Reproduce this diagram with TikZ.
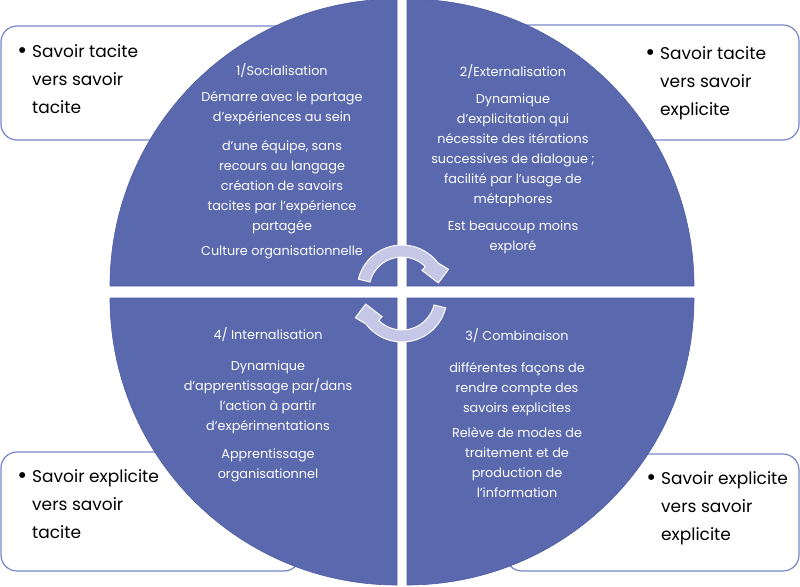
\documentclass[tikz,border=0pt]{standalone}
\usepackage{fontspec}
\setmainfont{Poppins}
\usepackage{xcolor}
\definecolor{quadblue}{RGB}{90,104,174}
\definecolor{quadedge}{RGB}{78,92,166}
\definecolor{boxline}{RGB}{118,134,200}
\definecolor{cyclefill}{RGB}{196,199,229}

\begin{document}
\begin{tikzpicture}[x=1pt,y=1pt]
    \tikzstyle{KnowBox}=[draw=boxline, line width=1.2pt, fill=white, rounded corners=16pt]
    \tikzstyle{BoxText}=[anchor=base west, align=left, inner sep=0pt, text=black, font=\fontsize{17}{28}\selectfont]
    \tikzstyle{Quadrant}=[fill=quadblue, draw=quadedge, line width=0.6pt]
    \tikzstyle{QuadText}=[anchor=base, align=center, inner sep=0pt, text=white, font=\fontsize{12.8}{20}\selectfont]
    \tikzstyle{CycleArrow}=[fill=cyclefill, draw=white, line width=1pt]
    \newcommand{\boxbullet}{\llap{\raisebox{-1.5pt}{\fontsize{24}{28}\selectfont •}\hspace{5pt}}}
    \useasboundingbox (0,0) rectangle (800,-586);
    \draw[KnowBox] (1,-26) rectangle (301,-140);
    \draw[KnowBox] (499,-25) rectangle (799,-140);
    \draw[KnowBox] (1,-452) rectangle (300,-571);
    \draw[KnowBox] (506,-454) rectangle (799,-571);
    \filldraw[Quadrant] (397,-286) -- ++(180:287) arc (180:90:287) -- cycle;
    \filldraw[Quadrant] (407,-286) -- ++(90:287) arc (90:0:287) -- cycle;
    \filldraw[Quadrant] (397,-298) -- ++(180:287) arc (180:270:287) -- cycle;
    \filldraw[Quadrant] (407,-298) -- ++(270:287) arc (270:360:287) -- cycle;
    \node[BoxText] (TacTac) at (32,-113) {\boxbullet Savoir tacite\\vers savoir\\tacite};
    \node[BoxText] (TacExp) at (660,-115) {\boxbullet Savoir tacite\\vers savoir\\explicite};
    \node[BoxText] (ExpTac) at (32,-538) {\boxbullet Savoir explicite\\vers savoir\\tacite};
    \node[BoxText] (ExpExp) at (661,-540) {\boxbullet Savoir explicite\\vers savoir\\explicite};
    \node[QuadText] (Social) at (282,-255) {1/Socialisation\\[6pt]Démarre avec le partage\\d’expériences au sein\\[9pt]d’une équipe, sans\\recours au langage\\création de savoirs\\tacites par l’expérience\\partagée\\[5pt]Culture organisationnelle};
    \node[QuadText] (Extern) at (513,-250) {2/Externalisation\\[7pt]Dynamique\\d’explicitation qui\\nécessite des itérations\\successives de dialogue ;\\facilité par l’usage de\\métaphores\\[7pt]Est beaucoup moins\\exploré};
    \node[QuadText] (Combin) at (517,-497) {3/ Combinaison\\[12pt]différentes façons de\\rendre compte des\\savoirs explicites\\[5pt]Relève de modes de\\traitement et de\\production de\\l’information};
    \node[QuadText] (Intern) at (268,-478) {4/ Internalisation\\[11pt]Dynamique\\d’apprentissage par/dans\\l’action à partir\\d’expérimentations\\[8pt]Apprentissage\\organisationnel};
    \foreach \cy/\turn in {290/0,297/180}{
        \begin{scope}[shift={(402,-\cy)}, rotate=\turn]
            \filldraw[CycleArrow] (166:45) arc (166:37:45) -- (24:51) -- (11:37) -- (45:28) -- (45:33) arc (45:166:33) -- cycle;
        \end{scope}
    }
\end{tikzpicture}
\end{document}
